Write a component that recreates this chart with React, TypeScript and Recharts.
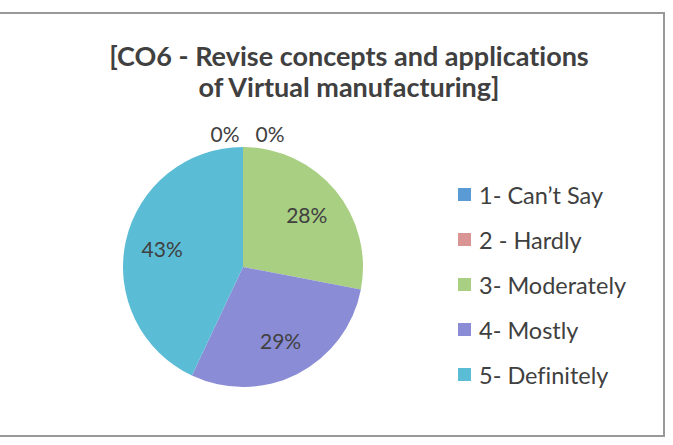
import { Cell, Legend, Pie, PieChart } from "recharts"

const categories = ["1- Can\u2019t Say", "2 - Hardly", "3- Moderately", "4- Mostly", "5- Definitely"]
const shares = [0, 0, 28, 29, 43]
const colors = ["#5A9BD5", "#D99594", "#A8CF82", "#8A8CD6", "#5BBCD6"]
const titleLines = ["[CO6 - Revise concepts and applications", "of Virtual manufacturing]"]

const data = categories.map((name, i) => ({ name, value: shares[i] }))

const FONT = "Lato, 'Open Sans', sans-serif"
const INK = "#404040"

const RADIAN = Math.PI / 180

function renderLabel(props: any) {
  const { cx, cy, midAngle, outerRadius, value, index } = props
  let x: number
  let y: number
  if (value === 0) {
    // Excel pushes the empty slices' labels outside, side by side
    x = cx + (index === 0 ? -18 : 27)
    y = cy - outerRadius - 14
  } else {
    const r = outerRadius * 0.69
    x = cx + r * Math.cos(-midAngle * RADIAN)
    y = cy + r * Math.sin(-midAngle * RADIAN)
  }
  return (
    <text x={x} y={y} fill={INK} fontSize={21} fontFamily={FONT} textAnchor="middle" dominantBaseline="central">
      {`${value}%`}
    </text>
  )
}

function renderLegend(props: any) {
  const payload = props.payload || []
  return (
    <div>
      {payload.map((entry: any, i: number) => (
        <div key={`lg-${i}`} style={{ height: 45, display: "flex", alignItems: "center" }}>
          <span style={{ width: 13, height: 13, background: entry.color, display: "inline-block", marginRight: 8 }} />
          <span style={{ fontSize: 23.5, fontFamily: FONT, color: INK, fontVariantLigatures: "none" }}>{entry.value}</span>
        </div>
      ))}
    </div>
  )
}

export default function App() {
  return (
    <div style={{ position: "absolute", left: 0, top: 0, width: 673, height: 445, background: "#fff", overflow: "hidden" }}>
      <div
        style={{
          position: "absolute",
          left: -10,
          top: 12,
          width: 675,
          height: 425,
          borderTop: "2px solid #999",
          borderRight: "2px solid #999",
          borderBottom: "2px solid #999",
          boxSizing: "border-box",
        }}
      />
      <div
        style={{
          position: "absolute",
          left: 0,
          top: 40,
          width: 698,
          textAlign: "center",
          fontFamily: FONT,
          fontWeight: 700,
          fontSize: 27,
          lineHeight: "31px",
          color: INK,
          fontVariantLigatures: "none",
        }}
      >
        {titleLines.map((t) => (
          <div key={t}>{t}</div>
        ))}
      </div>
      <PieChart
        width={673}
        height={445}
        margin={{ top: 0, right: 0, bottom: 0, left: 0 }}
        style={{ position: "absolute", left: 0, top: 0 }}
      >
        <Pie
          data={data}
          dataKey="value"
          nameKey="name"
          cx={243}
          cy={267}
          outerRadius={120}
          startAngle={90}
          endAngle={-270}
          stroke="none"
          labelLine={false}
          label={renderLabel}
          isAnimationActive={false}
        >
          {data.map((entry, index) => (
            <Cell key={`cell-${index}`} fill={colors[index % colors.length]} />
          ))}
        </Pie>
        <Legend
          layout="vertical"
          content={renderLegend}
          wrapperStyle={{ position: "absolute", left: 458, top: 172, width: 215 }}
        />
      </PieChart>
    </div>
  )
}
